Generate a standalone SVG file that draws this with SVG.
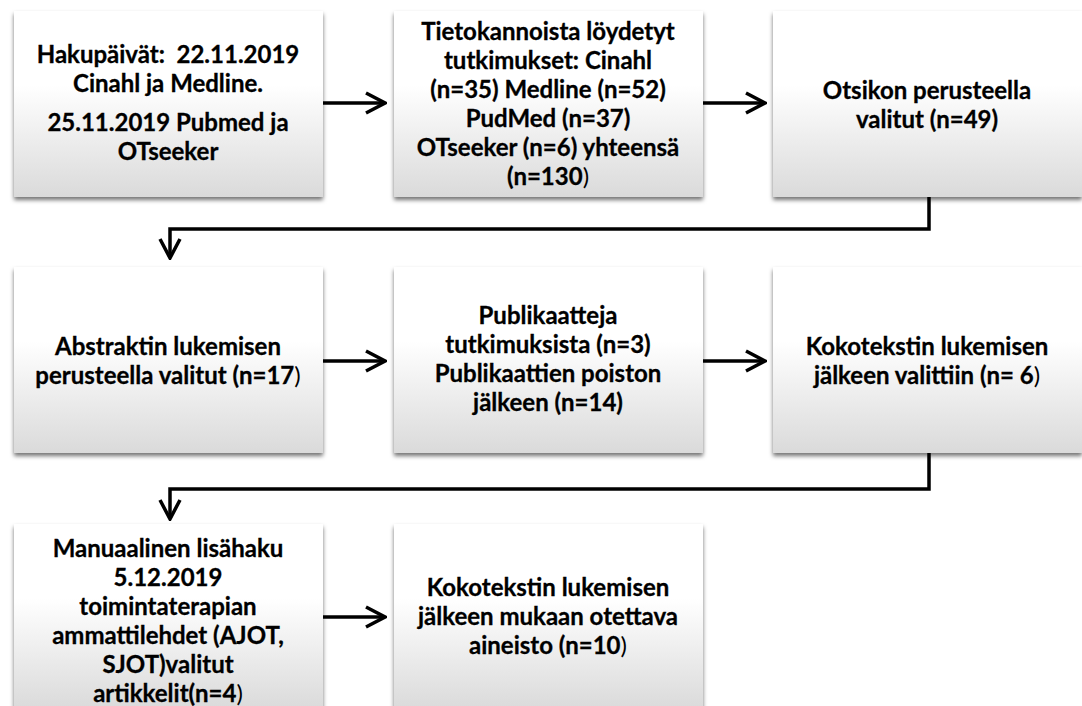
<svg xmlns="http://www.w3.org/2000/svg" width="1082" height="706" viewBox="0 0 1082 706">
<style>
.box{fill:url(#g);filter:url(#sh)}
text{font-family:Lato,"Liberation Sans",sans-serif;font-weight:bold;font-size:24px;fill:#000;stroke:#000;stroke-width:0.3;text-anchor:middle;white-space:pre}
.n{font-weight:normal;stroke-width:0}
.c{fill:none;stroke:#000;stroke-width:3.5}
</style>
<defs>
<linearGradient id="g" x1="0" y1="0" x2="0" y2="1">
<stop offset="0" stop-color="#ffffff"/>
<stop offset="0.4" stop-color="#ffffff"/>
<stop offset="1" stop-color="#dadada"/>
</linearGradient>
<filter id="sh" x="-5%" y="-5%" width="110%" height="115%">
<feDropShadow dx="0" dy="3" stdDeviation="2.2" flood-color="#000" flood-opacity="0.55"/>
</filter>
<marker id="a" markerUnits="userSpaceOnUse" viewBox="-22 -12 24 24" refX="0" refY="0" markerWidth="24" markerHeight="24" orient="auto">
<path d="M-19,-10 L0,0 L-19,10" fill="none" stroke="#000" stroke-width="3.5" stroke-linejoin="miter"/>
</marker>
</defs>
<g id="connectors">
<path class="c" d="M323,103 H385" marker-end="url(#a)"/>
<path class="c" d="M703,103 H765" marker-end="url(#a)"/>
<path class="c" d="M929,197 V229 H170 V258" marker-end="url(#a)"/>
<path class="c" d="M323,361 H385" marker-end="url(#a)"/>
<path class="c" d="M703,361 H765" marker-end="url(#a)"/>
<path class="c" d="M929,453 V489 H170 V519" marker-end="url(#a)"/>
<path class="c" d="M323,617 H385" marker-end="url(#a)"/>
</g>
<g id="n1">
<rect class="box" x="14" y="11" width="309" height="186"/>
<text x="168" y="63">Hakupäivät:  22.11.2019</text>
<text x="168" y="92">Cinahl ja Medline.</text>
<text x="168" y="131">25.11.2019 Pubmed ja</text>
<text x="168" y="160">OTseeker</text>
</g>
<g id="n2">
<rect class="box" x="394" y="11" width="309" height="186"/>
<text x="548" y="40">Tietokannoista löydetyt</text>
<text x="548" y="69">tutkimukset: Cinahl</text>
<text x="548" y="98">(n=35) Medline (n=52)</text>
<text x="548" y="127">PudMed (n=37)</text>
<text x="548" y="156">OTseeker (n=6) yhteensä</text>
<text x="548" y="185">(n=130<tspan class="n">)</tspan></text>
</g>
<g id="n3">
<rect class="box" x="773" y="11" width="309" height="186"/>
<text x="927" y="99">Otsikon perusteella</text>
<text x="927" y="128">valitut (n=49)</text>
</g>
<g id="n4">
<rect class="box" x="14" y="267" width="309" height="186"/>
<text x="168" y="355">Abstraktin lukemisen</text>
<text x="168" y="384">perusteella valitut (n=17<tspan class="n">)</tspan></text>
</g>
<g id="n5">
<rect class="box" x="394" y="267" width="309" height="186"/>
<text x="548" y="324">Publikaatteja</text>
<text x="548" y="353">tutkimuksista (n=3)</text>
<text x="548" y="382">Publikaattien poiston</text>
<text x="548" y="411">jälkeen (n=14)</text>
</g>
<g id="n6">
<rect class="box" x="773" y="267" width="309" height="186"/>
<text x="927" y="355">Kokotekstin lukemisen</text>
<text x="927" y="384">jälkeen valittiin (n= 6<tspan class="n">)</tspan></text>
</g>
<g id="n7">
<rect class="box" x="14" y="524" width="309" height="186"/>
<text x="168" y="557">Manuaalinen lisähaku</text>
<text x="168" y="586">5.12.2019</text>
<text x="168" y="615">toimintaterapian</text>
<text x="168" y="644">ammattilehdet (AJOT,</text>
<text x="168" y="673">SJOT)valitut</text>
<text x="168" y="702">artikkelit(n=4<tspan class="n">)</tspan></text>
</g>
<g id="n8">
<rect class="box" x="394" y="524" width="309" height="186"/>
<text x="548" y="596">Kokotekstin lukemisen</text>
<text x="548" y="625">jälkeen mukaan otettava</text>
<text x="548" y="654">aineisto (n=10<tspan class="n">)</tspan></text>
</g>
</svg>
